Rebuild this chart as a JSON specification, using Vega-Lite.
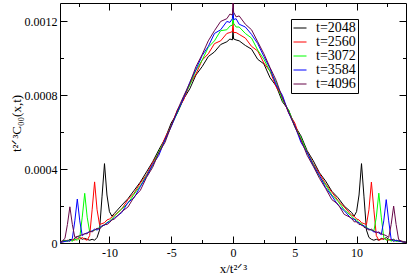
{
"$schema": "https://vega.github.io/schema/vega-lite/v6.json",
"width": 346, "height": 240,
"autosize": {"type": "none"},
"padding": {"left": 60, "top": 3, "right": 1, "bottom": 32},
"background": "white",
"config": {"view": {"stroke": null}, "font": "Liberation Serif",
  "axis": {"grid": false, "domainColor": "black", "domainWidth": 1, "tickColor": "black", "tickWidth": 1, "labelColor": "black", "labelFont": "Liberation Serif", "labelFontSize": 12, "titleFont": "Liberation Serif", "titleFontSize": 13, "titleFontWeight": "normal", "titleColor": "black", "labelFlush": false, "labelOverlap": false}},
"data": {"values": [
{"x":-14.0,"t=2048":0.000005,"t=2560":0.000003,"t=3072":0.000003,"t=3584":0.000003,"t=4096":0.000005},
{"x":-13.8,"t=2048":0.00001,"t=2560":0.000005,"t=3072":0.000008,"t=3584":0.000006,"t=4096":0.000012},
{"x":-13.6,"t=2048":0.000015,"t=2560":0.00001,"t=3072":0.000012,"t=3584":0.000008,"t=4096":0.000025},
{"x":-13.4,"t=2048":0.00001,"t=2560":0.000015,"t=3072":0.00001,"t=3584":0.000012,"t=4096":0.0001},
{"x":-13.2,"t=2048":0.00002,"t=2560":0.00001,"t=3072":0.000015,"t=3584":0.00001,"t=4096":0.000196},
{"x":-13.0,"t=2048":0.000015,"t=2560":0.00002,"t=3072":0.00001,"t=3584":0.000025,"t=4096":0.0001},
{"x":-12.8,"t=2048":0.000025,"t=2560":0.000015,"t=3072":0.00002,"t=3584":0.00012,"t=4096":0.00003},
{"x":-12.6,"t=2048":0.000035,"t=2560":0.000025,"t=3072":0.000015,"t=3584":0.000238,"t=4096":0.000035},
{"x":-12.4,"t=2048":0.00003,"t=2560":0.00002,"t=3072":0.00003,"t=3584":0.00012,"t=4096":0.00004},
{"x":-12.2,"t=2048":0.00002,"t=2560":0.00003,"t=3072":0.00014,"t=3584":0.00004,"t=4096":0.000045},
{"x":-12.0,"t=2048":0.000025,"t=2560":0.00002,"t=3072":0.000269,"t=3584":0.00005,"t=4096":0.00005},
{"x":-11.8,"t=2048":0.00002,"t=2560":0.000015,"t=3072":0.00014,"t=3584":0.000055,"t=4096":0.00005},
{"x":-11.6,"t=2048":0.000015,"t=2560":0.00004,"t=3072":0.00006,"t=3584":0.00006,"t=4096":0.000065},
{"x":-11.4,"t=2048":0.00002,"t=2560":0.00018,"t=3072":0.000065,"t=3584":0.000065,"t=4096":0.00006},
{"x":-11.2,"t=2048":0.000015,"t=2560":0.000331,"t=3072":0.00007,"t=3584":0.000075,"t=4096":0.00007},
{"x":-11.0,"t=2048":0.00003,"t=2560":0.00018,"t=3072":0.000075,"t=3584":0.00007,"t=4096":0.00008},
{"x":-10.8,"t=2048":0.00007,"t=2560":0.0001,"t=3072":0.000085,"t=3584":0.00008,"t=4096":0.000075},
{"x":-10.6,"t=2048":0.00025,"t=2560":0.000105,"t=3072":0.00009,"t=3584":0.000095,"t=4096":0.00009},
{"x":-10.4,"t=2048":0.00043,"t=2560":0.00011,"t=3072":0.0001,"t=3584":0.000095,"t=4096":0.0001},
{"x":-10.2,"t=2048":0.00026,"t=2560":0.000125,"t=3072":0.00011,"t=3584":0.00011,"t=4096":0.0001},
{"x":-10.0,"t=2048":0.00017,"t=2560":0.00013,"t=3072":0.00012,"t=3584":0.000115,"t=4096":0.00011},
{"x":-9.8,"t=2048":0.000145,"t=2560":0.00014,"t=3072":0.00013,"t=3584":0.000125,"t=4096":0.000125},
{"x":-9.6,"t=2048":0.00016,"t=2560":0.00015,"t=3072":0.000145,"t=3584":0.000135,"t=4096":0.00013},
{"x":-9.0,"t=2048":0.000205,"t=2560":0.000185,"t=3072":0.000185,"t=3584":0.000165,"t=4096":0.00017},
{"x":-8.5,"t=2048":0.00024,"t=2560":0.000235,"t=3072":0.000215,"t=3584":0.00022,"t=4096":0.000195},
{"x":-8.0,"t=2048":0.000285,"t=2560":0.00027,"t=3072":0.000265,"t=3584":0.000245,"t=4096":0.00025},
{"x":-7.5,"t=2048":0.00033,"t=2560":0.000325,"t=3072":0.00031,"t=3584":0.000305,"t=4096":0.000285},
{"x":-7.0,"t=2048":0.000385,"t=2560":0.00037,"t=3072":0.000365,"t=3584":0.00036,"t=4096":0.000355},
{"x":-6.5,"t=2048":0.00044,"t=2560":0.000435,"t=3072":0.00042,"t=3584":0.000425,"t=4096":0.00041},
{"x":-6.0,"t=2048":0.000505,"t=2560":0.00049,"t=3072":0.000495,"t=3584":0.000475,"t=4096":0.00049},
{"x":-5.5,"t=2048":0.000565,"t=2560":0.00057,"t=3072":0.000555,"t=3584":0.00056,"t=4096":0.000545},
{"x":-5.0,"t=2048":0.00065,"t=2560":0.000635,"t=3072":0.000635,"t=3584":0.00063,"t=4096":0.000635},
{"x":-4.5,"t=2048":0.000705,"t=2560":0.00072,"t=3072":0.000705,"t=3584":0.00071,"t=4096":0.00072},
{"x":-4.0,"t=2048":0.00078,"t=2560":0.000775,"t=3072":0.00079,"t=3584":0.000785,"t=4096":0.000795},
{"x":-3.5,"t=2048":0.000835,"t=2560":0.00086,"t=3072":0.000855,"t=3584":0.00087,"t=4096":0.000865},
{"x":-3.0,"t=2048":0.00091,"t=2560":0.000915,"t=3072":0.000935,"t=3584":0.00094,"t=4096":0.000955},
{"x":-2.5,"t=2048":0.000955,"t=2560":0.00099,"t=3072":0.00099,"t=3584":0.001015,"t=4096":0.00102},
{"x":-2.0,"t=2048":0.00101,"t=2560":0.001025,"t=3072":0.00106,"t=3584":0.001065,"t=4096":0.001095},
{"x":-1.5,"t=2048":0.001035,"t=2560":0.00108,"t=3072":0.001095,"t=3584":0.001135,"t=4096":0.00115},
{"x":-1.0,"t=2048":0.001075,"t=2560":0.001095,"t=3072":0.00115,"t=3584":0.001155,"t=4096":0.0012},
{"x":-0.5,"t=2048":0.00109,"t=2560":0.001135,"t=3072":0.001155,"t=3584":0.0012,"t=4096":0.001215},
{"x":-0.25,"t=2048":0.001105,"t=2560":0.00114,"t=3072":0.001175,"t=3584":0.001195,"t=4096":0.00124},
{"x":-0.05,"t=2048":0.0011,"t=2560":0.001145,"t=3072":0.00118,"t=3584":0.001215,"t=4096":0.001235},
{"x":0,"t=2048":0.00116,"t=2560":0.0012,"t=3072":0.00124,"t=3584":0.00127,"t=4096":0.00131},
{"x":0.05,"t=2048":0.001105,"t=2560":0.00114,"t=3072":0.00119,"t=3584":0.00121,"t=4096":0.00125},
{"x":0.25,"t=2048":0.0011,"t=2560":0.00114,"t=3072":0.00117,"t=3584":0.001215,"t=4096":0.001225},
{"x":0.5,"t=2048":0.001095,"t=2560":0.00113,"t=3072":0.00117,"t=3584":0.001185,"t=4096":0.00123},
{"x":1.0,"t=2048":0.00107,"t=2560":0.00111,"t=3072":0.001135,"t=3584":0.00117,"t=4096":0.001185},
{"x":1.5,"t=2048":0.00105,"t=2560":0.001065,"t=3072":0.00111,"t=3584":0.00113,"t=4096":0.001155},
{"x":2.0,"t=2048":0.000995,"t=2560":0.00104,"t=3072":0.001045,"t=3584":0.00108,"t=4096":0.00109},
{"x":2.5,"t=2048":0.00097,"t=2560":0.000975,"t=3072":0.000995,"t=3584":0.00101,"t=4096":0.001025},
{"x":3.0,"t=2048":0.000895,"t=2560":0.00093,"t=3072":0.00093,"t=3584":0.000945,"t=4096":0.00095},
{"x":3.5,"t=2048":0.00085,"t=2560":0.000845,"t=3072":0.00087,"t=3584":0.000855,"t=4096":0.00088},
{"x":4.0,"t=2048":0.000765,"t=2560":0.00079,"t=3072":0.000775,"t=3584":0.0008,"t=4096":0.000785},
{"x":4.5,"t=2048":0.00072,"t=2560":0.000705,"t=3072":0.00072,"t=3584":0.000705,"t=4096":0.00071},
{"x":5.0,"t=2048":0.000635,"t=2560":0.00065,"t=3072":0.00063,"t=3584":0.000635,"t=4096":0.00063},
{"x":5.5,"t=2048":0.00058,"t=2560":0.000555,"t=3072":0.00057,"t=3584":0.000545,"t=4096":0.00056},
{"x":6.0,"t=2048":0.0005,"t=2560":0.000495,"t=3072":0.00049,"t=3584":0.00049,"t=4096":0.000475},
{"x":6.5,"t=2048":0.000445,"t=2560":0.00043,"t=3072":0.000425,"t=3584":0.00042,"t=4096":0.000415},
{"x":7.0,"t=2048":0.00038,"t=2560":0.000375,"t=3072":0.00036,"t=3584":0.000365,"t=4096":0.00035},
{"x":7.5,"t=2048":0.000335,"t=2560":0.00032,"t=3072":0.000315,"t=3584":0.0003,"t=4096":0.000295},
{"x":8.0,"t=2048":0.00028,"t=2560":0.000275,"t=3072":0.00026,"t=3584":0.000255,"t=4096":0.000235},
{"x":8.5,"t=2048":0.000245,"t=2560":0.00023,"t=3072":0.000225,"t=3584":0.000205,"t=4096":0.00021},
{"x":9.0,"t=2048":0.0002,"t=2560":0.000195,"t=3072":0.00018,"t=3584":0.000175,"t=4096":0.000155},
{"x":9.6,"t=2048":0.000165,"t=2560":0.00015,"t=3072":0.000145,"t=3584":0.00013,"t=4096":0.000135},
{"x":9.8,"t=2048":0.000145,"t=2560":0.000145,"t=3072":0.00013,"t=3584":0.00013,"t=4096":0.000115},
{"x":10.0,"t=2048":0.00017,"t=2560":0.00013,"t=3072":0.000125,"t=3584":0.000115,"t=4096":0.000115},
{"x":10.2,"t=2048":0.00026,"t=2560":0.000125,"t=3072":0.00011,"t=3584":0.00011,"t=4096":0.0001},
{"x":10.4,"t=2048":0.00043,"t=2560":0.00011,"t=3072":0.000105,"t=3584":0.000095,"t=4096":0.0001},
{"x":10.6,"t=2048":0.00025,"t=2560":0.000105,"t=3072":0.00009,"t=3584":0.000095,"t=4096":0.000085},
{"x":10.8,"t=2048":0.00007,"t=2560":0.0001,"t=3072":0.000085,"t=3584":0.00008,"t=4096":0.00008},
{"x":11.0,"t=2048":0.00003,"t=2560":0.00018,"t=3072":0.000075,"t=3584":0.000075,"t=4096":0.00007},
{"x":11.2,"t=2048":0.00002,"t=2560":0.00033,"t=3072":0.00007,"t=3584":0.00007,"t=4096":0.000075},
{"x":11.4,"t=2048":0.000015,"t=2560":0.00018,"t=3072":0.000065,"t=3584":0.00006,"t=4096":0.000065},
{"x":11.6,"t=2048":0.00002,"t=2560":0.00004,"t=3072":0.00014,"t=3584":0.00006,"t=4096":0.000055},
{"x":11.8,"t=2048":0.000015,"t=2560":0.000015,"t=3072":0.00027,"t=3584":0.000055,"t=4096":0.00006},
{"x":12.0,"t=2048":0.000025,"t=2560":0.00002,"t=3072":0.00014,"t=3584":0.000045,"t=4096":0.00005},
{"x":12.2,"t=2048":0.00002,"t=2560":0.000025,"t=3072":0.00003,"t=3584":0.00012,"t=4096":0.000045},
{"x":12.4,"t=2048":0.00003,"t=2560":0.00002,"t=3072":0.000015,"t=3584":0.000235,"t=4096":0.00004},
{"x":12.6,"t=2048":0.00002,"t=2560":0.000015,"t=3072":0.00002,"t=3584":0.00012,"t=4096":0.00003},
{"x":12.8,"t=2048":0.000015,"t=2560":0.00002,"t=3072":0.00001,"t=3584":0.00002,"t=4096":0.0001},
{"x":13.0,"t=2048":0.00002,"t=2560":0.00001,"t=3072":0.000015,"t=3584":0.00001,"t=4096":0.0002},
{"x":13.2,"t=2048":0.00001,"t=2560":0.000015,"t=3072":0.00001,"t=3584":0.000015,"t=4096":0.0001},
{"x":13.4,"t=2048":0.000015,"t=2560":0.00001,"t=3072":0.00001,"t=3584":0.00001,"t=4096":0.00002},
{"x":13.6,"t=2048":0.00001,"t=2560":0.00001,"t=3072":0.000008,"t=3584":0.000008,"t=4096":0.00001},
{"x":13.8,"t=2048":0.000008,"t=2560":0.000005,"t=3072":0.000005,"t=3584":0.000005,"t=4096":0.000005},
{"x":14.0,"t=2048":0.000005,"t=2560":0.000003,"t=3072":0.000003,"t=3584":0.000003,"t=4096":0.000003}
]},
"transform": [{"fold": ["t=2048", "t=2560", "t=3072", "t=3584", "t=4096"], "as": ["t", "y"]}],
"layer": [
  {"mark": {"type": "line", "strokeWidth": 1, "clip": true},
   "encoding": {
     "x": {"field": "x", "type": "quantitative", "scale": {"domain": [-14, 14], "nice": false, "zero": false},
       "axis": {"orient": "bottom", "values": [-12.5, -10, -7.5, -5, -2.5, 0, 2.5, 5, 7.5, 10, 12.5],
         "labelExpr": "datum.value % 5 == 0 ? '' + datum.value : ''",
         "tickSize": {"condition": {"test": "datum.value % 5 == 0", "value": -7}, "value": -3.5},
         "labelPadding": 11, "title": "x/t²ᐟ³", "titlePadding": 1}},
     "y": {"field": "y", "type": "quantitative", "scale": {"domain": [0, 0.0013], "nice": false, "zero": true},
       "axis": {"orient": "left", "values": [0, 0.0002, 0.0004, 0.0006, 0.0008, 0.001, 0.0012],
         "labelExpr": "round(datum.value * 10000) % 4 == 0 ? (datum.value == 0 ? '0' : format(datum.value, '.4f')) : ''",
         "tickSize": {"condition": {"test": "round(datum.value * 10000) % 4 == 0", "value": -7}, "value": -3.5},
         "labelPadding": 10, "title": "t²ᐟ³C₀₀(x,t)", "titlePadding": 1}},
     "color": {"field": "t", "type": "nominal",
       "scale": {"domain": ["t=2048", "t=2560", "t=3072", "t=3584", "t=4096"], "range": ["#000000", "#ff0000", "#00ff00", "#0000ff", "#670748"]},
       "legend": {"orient": "none", "legendX": 231, "legendY": 16, "title": null, "strokeColor": "black", "fillColor": "white", "padding": 2,
         "symbolType": "stroke", "symbolSize": 169, "symbolStrokeWidth": 1, "labelFont": "Liberation Serif", "labelFontSize": 14, "labelColor": "black",
         "labelOffset": 9, "rowPadding": 0}}
   }},
  {"mark": {"type": "point", "opacity": 0},
   "encoding": {
     "x": {"field": "x", "type": "quantitative", "scale": {"domain": [-14, 14], "nice": false, "zero": false},
       "axis": {"orient": "top", "values": [-12.5, -10, -7.5, -5, -2.5, 0, 2.5, 5, 7.5, 10, 12.5], "labels": false, "title": null,
         "tickSize": {"condition": {"test": "datum.value % 5 == 0", "value": -7}, "value": -3.5}}},
     "y": {"field": "y", "type": "quantitative", "scale": {"domain": [0, 0.0013], "nice": false, "zero": true},
       "axis": {"orient": "right", "values": [0, 0.0002, 0.0004, 0.0006, 0.0008, 0.001, 0.0012], "labels": false, "title": null,
         "tickSize": {"condition": {"test": "round(datum.value * 10000) % 4 == 0", "value": -7}, "value": -3.5}}}
   }}
],
"resolve": {"axis": {"x": "independent", "y": "independent"}}
}
